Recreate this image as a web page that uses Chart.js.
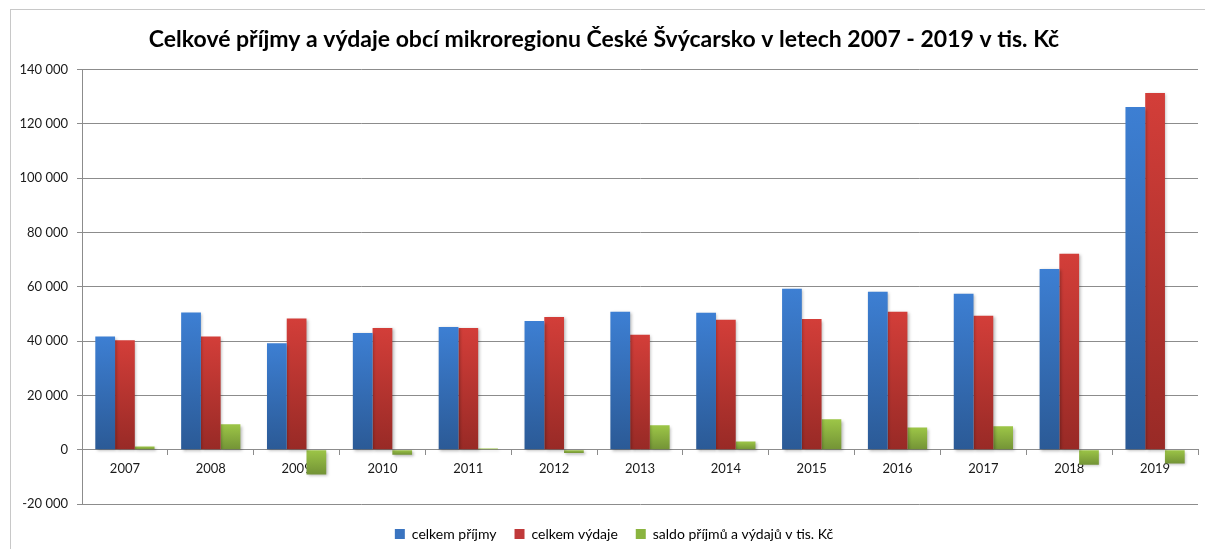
<!DOCTYPE html>
<html>
<head>
<meta charset="utf-8">
<script src="https://cdn.jsdelivr.net/npm/chart.js@4"></script>
<style>
  html, body { margin: 0; padding: 0; background: #fff; }
  #wrap { width: 1205px; height: 549px; position: relative; }
</style>
</head>
<body>
<div id="wrap"><canvas id="myChart" width="1205" height="549"></canvas></div>
<script>
let years = ['2007', '2008', '2009', '2010', '2011', '2012', '2013', '2014', '2015', '2016', '2017', '2018', '2019']
let prijmy = [41700, 50500, 39200, 43000, 45200, 47400, 50800, 50400, 59300, 58200, 57400, 66600, 126200]
let vydaje = [40300, 41700, 48300, 44850, 44850, 48900, 42300, 47900, 48100, 50800, 49300, 72200, 131400]
let saldo = [1200, 9400, -9100, -1850, 400, -1250, 9000, 3000, 11200, 8200, 8600, -5500, -5100]
let yTicks = [-20000, 0, 20000, 40000, 60000, 80000, 100000, 120000, 140000]

const fontFamily = "Lato, 'Open Sans', sans-serif"

// gradient for each bar, light at the top, dark at the bottom
function barFill(light, dark) {
    return function (ctx) {
        let chart = ctx.chart
        if (ctx.type !== 'data' || !chart.chartArea || !chart.scales.y) return light
        let y = chart.scales.y
        let v = ctx.raw
        let top = y.getPixelForValue(Math.max(v, 0))
        let bottom = y.getPixelForValue(Math.min(v, 0))
        if (bottom - top < 1) return light
        let g = chart.ctx.createLinearGradient(0, top, 0, bottom)
        g.addColorStop(0, light)
        g.addColorStop(1, dark)
        return g
    }
}

function fmt(v) {
    return String(v).replace(/\B(?=(\d{3})+(?!\d))/g, ' ')
}

const frame = {
    id: 'frame',
    afterLayout(chart) {
        // nudge the legend a bit right and down, like the original
        let lg = chart.legend
        lg.left += 10
        lg.right += 10
        lg.top += 5
        lg.bottom += 5
    },
    beforeDraw(chart) {
        let c = chart.ctx
        c.save()
        c.strokeStyle = '#c8c8c8'
        c.lineWidth = 1
        c.strokeRect(10.5, 9.5, 1210, 560)
        c.restore()
    },
    beforeDatasetsDraw(chart) {
        let c = chart.ctx
        c.save()
        c.shadowColor = 'rgba(0,0,0,0.28)'
        c.shadowBlur = 3
        c.shadowOffsetX = 1.5
        c.shadowOffsetY = 1.5
    },
    afterDatasetsDraw(chart) {
        chart.ctx.restore()
    }
}

Chart.defaults.font.family = fontFamily
Chart.defaults.font.size = 13
Chart.defaults.color = '#1a1a1a'

let lineChart = new Chart(document.getElementById('myChart').getContext('2d'), {
    type: 'bar',
    data: {
        labels: years,
        datasets: [{
            label: 'celkem příjmy',
            data: prijmy,
            backgroundColor: barFill('#3d7fd3', '#2b5a96'),
            legendColor: '#3a74c0'
        }, {
            label: 'celkem výdaje',
            data: vydaje,
            backgroundColor: barFill('#d33e39', '#982a26'),
            legendColor: '#c0393a'
        }, {
            label: 'saldo příjmů a výdajů v tis. Kč',
            data: saldo,
            backgroundColor: barFill('#9dc647', '#739336'),
            legendColor: '#8ab43f'
        }]
    },
    options: {
        responsive: false,
        animation: false,
        events: [],
        layout: { padding: { left: 10, right: 7, top: 0, bottom: 3 } },
        datasets: {
            bar: { categoryPercentage: 0.69, barPercentage: 1 }
        },
        scales: {
            x: {
                position: { y: 0 },
                grid: { offset: true, drawOnChartArea: false, drawTicks: true, tickLength: 5, color: '#8c8c8c' },
                border: { color: '#8c8c8c' },
                ticks: { padding: 6, maxRotation: 0, font: { size: 13 } }
            },
            y: {
                min: -20000,
                max: 140000,
                afterBuildTicks: function (axis) {
                    axis.ticks = yTicks.map(v => ({ value: v }))
                },
                afterFit: function (axis) { axis.width = 72 },
                grid: { color: '#8c8c8c', tickLength: 5 },
                border: { color: '#8c8c8c' },
                ticks: { padding: 9, font: { size: 13 }, callback: v => fmt(v) }
            }
        },
        plugins: {
            title: {
                display: true,
                text: 'Celkové příjmy a výdaje obcí mikroregionu České Švýcarsko v letech 2007 - 2019 v tis. Kč',
                color: '#000',
                font: { size: 23, weight: 'bold', family: fontFamily },
                padding: { top: 26, bottom: 16 }
            },
            legend: {
                position: 'bottom',
                labels: {
                    boxWidth: 10,
                    boxHeight: 10,
                    padding: 18,
                    font: { size: 14 },
                    generateLabels: function (chart) {
                        return chart.data.datasets.map((ds, i) => ({
                            text: ds.label,
                            fillStyle: ds.legendColor,
                            strokeStyle: ds.legendColor,
                            lineWidth: 0,
                            datasetIndex: i
                        }))
                    }
                }
            },
            tooltip: { enabled: false }
        }
    },
    plugins: [frame]
})
</script>
</body>
</html>
